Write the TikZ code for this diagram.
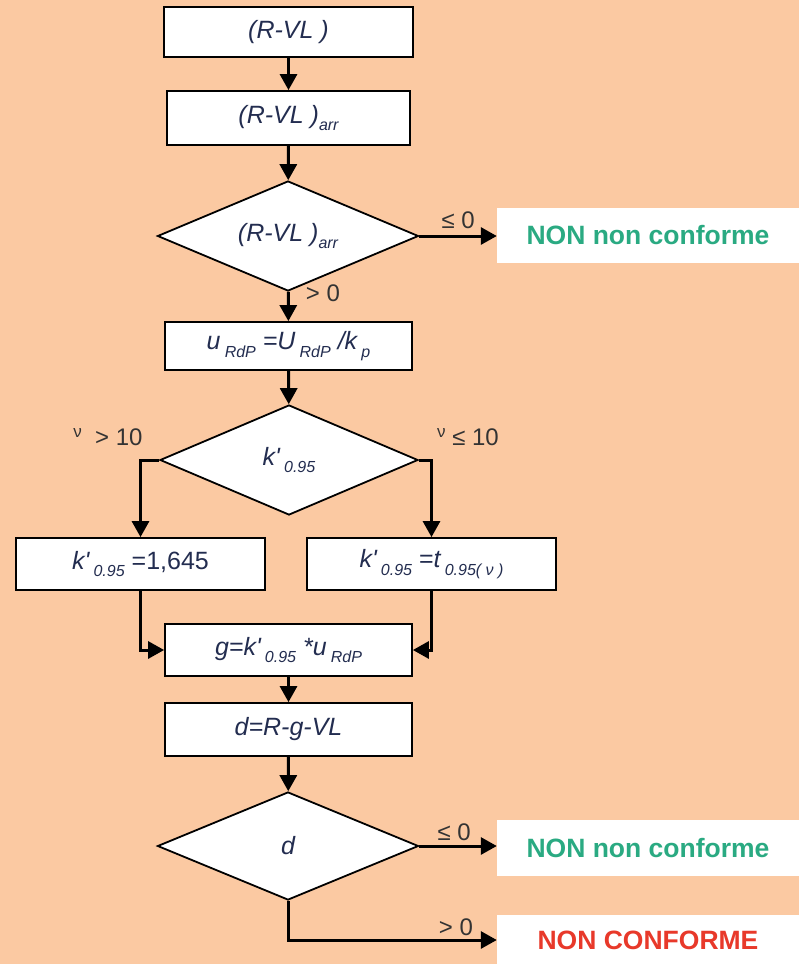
\documentclass[tikz,border=0pt]{standalone}
\usepackage{fontspec}
\setmainfont{Liberation Sans}
\usetikzlibrary{arrows.meta,shapes.geometric}
\definecolor{bgpeach}{RGB}{251,201,162}
\definecolor{navy}{RGB}{35,45,80}
\definecolor{okgreen}{RGB}{42,170,130}
\definecolor{nokred}{RGB}{232,57,42}
\newcommand\sbs[1]{\raisebox{-0.3em}{\fontsize{16}{16}\selectfont #1}}
\newcommand\kp{k\textquotesingle}
\tikzset{
  procbox/.style={draw=black, line width=1.8pt, fill=white, minimum width=247pt, minimum height=51pt, inner sep=0pt, font=\fontsize{25}{28}\selectfont\itshape, text=navy},
  decbox/.style={diamond, draw=black, line width=1.8pt, fill=white, minimum width=261pt, minimum height=110pt, aspect=2.37, inner sep=0pt, font=\fontsize{25}{28}\selectfont\itshape, text=navy},
  resbox/.style={fill=white, minimum width=302pt, minimum height=55pt, inner sep=0pt, font=\fontsize{26.5}{29}\selectfont\bfseries},
  flow/.style={line width=3pt, -{Triangle[width=17pt,length=16pt]}},
  lbl/.style={font=\fontsize{24}{26}\selectfont, text=black!80, inner sep=0pt}
}
\begin{document}
\begin{tikzpicture}[x=1pt,y=-1pt]
\fill[bgpeach] (0,0) rectangle (799,964);
\useasboundingbox (0,0) rectangle (799,964);

\node[procbox, minimum width=249pt, minimum height=50pt] (b1) at (288.5,32) {(R-VL )};
\node[procbox, minimum width=243pt, minimum height=54pt] (b2) at (288.5,118) {(R-VL )\sbs{arr}};
\node[decbox] (d1) at (288,236) {(R-VL )\sbs{arr}};
\node[resbox, text=okgreen] (n1) at (648,235.5) {NON non conforme};
\node[procbox, minimum height=48pt] (b3) at (288.5,346) {u\,\sbs{RdP} =U\,\sbs{RdP} /k\,\sbs{p}};
\node[decbox, minimum width=258pt] (d2) at (289,460) {\kp\,\sbs{0.95}};
\node[procbox, minimum width=249pt, minimum height=52pt] (b4) at (140.5,564) {\kp\,\sbs{0.95} \upshape =1,645};
\node[procbox, minimum width=249pt, minimum height=52pt] (b5) at (431.5,564) {\kp\,\sbs{0.95} \upshape =\itshape t\,\sbs{0.95( ν )}};
\node[procbox, minimum height=52pt] (b6) at (288.5,650) {g=\kp\,\sbs{0.95} *u\,\sbs{RdP}};
\node[procbox, minimum height=53pt] (b7) at (288.5,729.5) {d=R-g-VL};
\node[decbox, minimum height=108pt] (d3) at (288,846) {d};
\node[resbox, text=okgreen, minimum height=56pt] (n2) at (648,848) {NON non conforme};
\node[resbox, text=nokred, minimum height=50pt] (n3) at (648,940) {NON CONFORME};

\draw[flow] (b1) -- (b2);
\draw[flow] (b2) -- (d1);
\draw[flow] (d1.east) -- node[lbl, above=6pt, pos=0.5] {≤ 0} (d1.east -| n1.west);
\draw[flow] (d1) -- (b3);
\draw[flow] (b3) -- (d2);
\draw[flow] (d2.west) -| (b4.north);
\draw[flow] (d2.east) -| (b5.north);
\draw[flow] (b4.south) |- (b6.west);
\draw[flow] (b5.south) |- (b6.east);
\draw[flow] (b6) -- (b7);
\draw[flow] (b7) -- (d3);
\draw[flow] (d3.east) -- node[lbl, above=4pt, pos=0.45] {≤ 0} (d3.east -| n2.west);
\draw[flow] (d3.south) |- (n3.west);

\node[lbl] (l1) at (323,293) {> 0};
\node[lbl] (l2) at (108,437) {\raisebox{0.35em}{\fontsize{17}{17}\selectfont ν}\ \ > 10};
\node[lbl] (l3) at (468,437) {\raisebox{0.35em}{\fontsize{17}{17}\selectfont ν} ≤ 10};
\node[lbl] (l4) at (456,927) {> 0};
\end{tikzpicture}
\end{document}
